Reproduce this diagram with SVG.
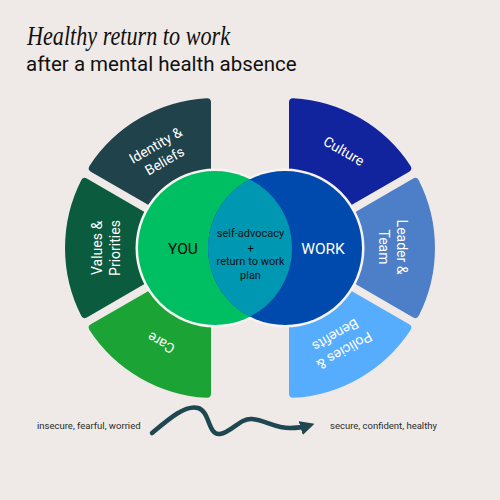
<svg xmlns="http://www.w3.org/2000/svg" width="500" height="500" viewBox="0 0 500 500">
<style>
.seg{stroke-width:8;stroke-linejoin:round}
.lbl{font-family:Roboto,"Liberation Sans",sans-serif;font-size:14px;fill:#ffffff;text-anchor:middle}
.ctr{font-family:Roboto,"Liberation Sans",sans-serif;text-anchor:middle}
.note{font-family:Roboto,"Liberation Sans",sans-serif;font-size:9.5px;fill:#2a2a2a}
</style>
<defs>
<marker id="head" viewBox="0 0 10 10" refX="6" refY="5" markerWidth="3.2" markerHeight="3.2" orient="auto" markerUnits="strokeWidth">
<path d="M0,0 L10,5 L0,10 Z" fill="#1f474f"/>
</marker>
</defs>
<rect x="0" y="0" width="500" height="500" fill="#efeae7"/>

<g id="title">
<text x="27" y="45" font-family="'Liberation Serif',serif" font-style="italic" font-size="27" fill="#111" textLength="203" lengthAdjust="spacingAndGlyphs">Healthy return to work</text>
<text x="26" y="71" font-family="Roboto,'Liberation Sans',sans-serif" font-size="20.5" fill="#111">after a mental health absence</text>
</g>

<g id="identity">
<path class="seg" fill="#1f424b" stroke="#1f424b" d="M92.8,168.2 A146,146 0 0 1 207,102.2 L207,168.4 L150.1,201.3 Z"/>
<g transform="translate(160,153) rotate(-30)"><text class="lbl" y="-4">Identity &amp;</text><text class="lbl" y="14">Beliefs</text></g>
</g>
<g id="values">
<path class="seg" fill="#0b5c3e" stroke="#0b5c3e" d="M84.8,182 A146,146 0 0 0 84.8,314 L142.1,280.9 L142.1,215.1 Z"/>
<g transform="translate(106,248) rotate(-90)"><text class="lbl" y="-4">Values &amp;</text><text class="lbl" y="14">Priorities</text></g>
</g>
<g id="care">
<path class="seg" fill="#1ba336" stroke="#1ba336" d="M92.8,327.8 A146,146 0 0 0 207,393.8 L207,327.6 L150.1,294.7 Z"/>
<g transform="translate(161,343) rotate(-150)"><text class="lbl" y="5">Care</text></g>
</g>
<g id="culture">
<path class="seg" fill="#12239e" stroke="#12239e" d="M407.2,168.2 A146,146 0 0 0 293,102.2 L293,168.4 L349.9,201.3 Z"/>
<g transform="translate(344,151) rotate(30)"><text class="lbl" y="5">Culture</text></g>
</g>
<g id="leader">
<path class="seg" fill="#4d7fc9" stroke="#4d7fc9" d="M415.2,182 A146,146 0 0 1 415.2,314 L357.9,280.9 L357.9,215.1 Z"/>
<g transform="translate(393,247) rotate(90)"><text class="lbl" y="-4">Leader &amp;</text><text class="lbl" y="14">Team</text></g>
</g>
<g id="policies">
<path class="seg" fill="#56adfe" stroke="#56adfe" d="M407.2,327.8 A146,146 0 0 1 293,393.8 L293,327.6 L349.9,294.7 Z"/>
<g transform="translate(340,343) rotate(150)"><text class="lbl" y="-4">Policies &amp;</text><text class="lbl" y="14">Benefits</text></g>
</g>

<g id="venn">
<circle cx="215" cy="248" r="77" fill="none" stroke="#f7f3f1" stroke-width="5"/>
<circle cx="285" cy="248" r="77" fill="none" stroke="#f7f3f1" stroke-width="5"/>
<circle cx="215" cy="248" r="77" fill="#00bf63"/>
<circle cx="285" cy="248" r="77" fill="#004aad"/>
<path d="M250,179.4 A77,77 0 0 1 250,316.6 A77,77 0 0 1 250,179.4 Z" fill="#0097b2"/>
</g>
<g id="you"><text class="ctr" x="183" y="254" font-size="15.5" fill="#0a0a0a">YOU</text></g>
<g id="work"><text class="ctr" x="323" y="254" font-size="15.5" fill="#ffffff">WORK</text></g>
<g id="overlap">
<text class="ctr" x="250.5" y="237" font-size="11" fill="#111">self-advocacy</text>
<text class="ctr" x="250.5" y="251.5" font-size="11" fill="#111">+</text>
<text class="ctr" x="250.5" y="265" font-size="11" fill="#111">return to work</text>
<text class="ctr" x="250.5" y="278.5" font-size="11" fill="#111">plan</text>
</g>

<g id="connectors">
<path d="M152,433 C170,418 185,405 198,408 C210,411 208,436 220,434 C232,432 240,418 252,419 C265,420 275,428 290,428 C298,428 304,427 309,425.5" fill="none" stroke="#1f474f" stroke-width="4.5" stroke-linecap="round" marker-end="url(#head)"/>
</g>
<g id="from"><text class="note" x="37" y="429">insecure, fearful, worried</text></g>
<g id="to"><text class="note" x="330" y="429">secure, confident, healthy</text></g>
</svg>
